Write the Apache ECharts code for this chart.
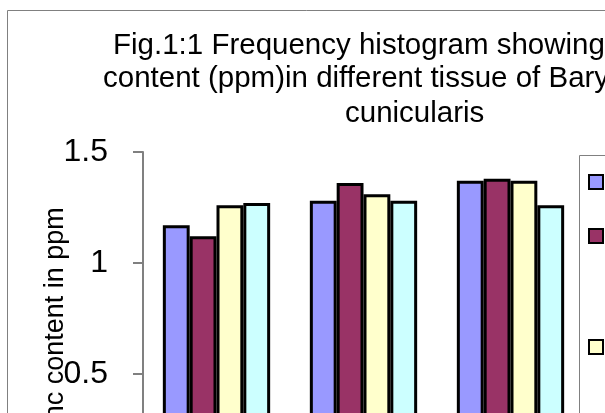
<!DOCTYPE html>
<html>
<head>
<meta charset="utf-8">
<title>Zinc content histogram</title>
<script src="https://cdn.jsdelivr.net/npm/echarts@6/dist/echarts.min.js"></script>
<style>
  html, body { margin: 0; padding: 0; background: #fff; overflow: hidden; }
  .zinc-chart { width: 605px; height: 413px; }
</style>
</head>
<body>
<div class="zinc-chart"></div>
<script>
// values
const titleLines = [
  'Fig.1:1 Frequency histogram showing Zinc',
  'content (ppm)in different tissue of Barytelphusa',
  'cunicularis'
];
const yAxisName = 'Zinc content in ppm';
const categories = ['Muscle', 'Gill', 'Hepatopancreas'];
const seriesNames = ['Site I', 'Site II', 'Site III', 'Site IV'];
const site1 = [1.17, 1.28, 1.37];
const site2 = [1.12, 1.36, 1.38];
const site3 = [1.26, 1.31, 1.37];
const site4 = [1.27, 1.28, 1.26];
const yTicks = [0, 0.5, 1, 1.5];

const seriesValues = [site1, site2, site3, site4];
const seriesColors = ['#9999FF', '#993366', '#FFFFCC', '#CCFFFF'];
const font = '"Liberation Sans", Arial, sans-serif';

class ZincChart {
  constructor() {
    this.drawChart();
  }

  drawChart() {
    const dom = document.querySelector('.zinc-chart');
    if (!dom) return;

    const chart = echarts.init(dom, null, { renderer: 'canvas' });

    const titleX = [113, 103, 345];
    const titleY = [46, 79, 114];
    const legendTops = [174, 228, 339, 450];

    const option = {
      animation: false,
      backgroundColor: '#fff',
      textStyle: { fontFamily: font },
      graphic: [
        {
          type: 'rect',
          silent: true,
          shape: { x: 7.5, y: 10.5, width: 900, height: 600 },
          style: { fill: 'none', stroke: '#808080', lineWidth: 1 }
        },
        {
          type: 'rect',
          silent: true,
          shape: { x: 579.5, y: 155.5, width: 200, height: 400 },
          style: { fill: 'none', stroke: '#808080', lineWidth: 1 }
        }
      ].concat(titleLines.map((t, i) => ({
        type: 'text',
        silent: true,
        x: titleX[i],
        y: titleY[i],
        style: {
          text: t,
          fill: '#000',
          font: '29.5px ' + font,
          align: 'left',
          verticalAlign: 'middle'
        }
      }))),
      legend: seriesNames.map((n, i) => ({
        data: [n],
        orient: 'vertical',
        left: 588,
        top: legendTops[i],
        padding: 0,
        icon: 'rect',
        itemWidth: 14,
        itemHeight: 14,
        itemStyle: { borderColor: '#000', borderWidth: 2 },
        textStyle: { fontSize: 14, lineHeight: 14, color: '#000' },
        selectedMode: false
      })),
      grid: {
        left: 143, top: 152, width: 441, height: 333,
        containLabel: false,
        outerBoundsMode: 'none'
      },
      xAxis: {
        type: 'category',
        data: categories,
        axisLine: { lineStyle: { color: '#808080', width: 1 } },
        axisTick: { show: false },
        axisLabel: { fontSize: 28, color: '#000' }
      },
      yAxis: {
        type: 'value',
        min: yTicks[0],
        max: yTicks[yTicks.length - 1],
        interval: yTicks[1] - yTicks[0],
        name: yAxisName,
        nameLocation: 'middle',
        nameRotate: 90,
        nameGap: 74,
        nameMoveOverlap: false,
        nameTextStyle: { fontSize: 27, color: '#000', padding: [0, 13, 0, 0] },
        splitLine: { show: false },
        axisLine: { show: true, lineStyle: { color: '#808080', width: 2 } },
        axisTick: { show: true, inside: false, length: 10, lineStyle: { color: '#808080', width: 2 } },
        axisLabel: { fontSize: 32, color: '#000', margin: 35 }
      },
      series: seriesNames.map((n, i) => ({
        name: n,
        type: 'bar',
        data: seriesValues[i],
        barGap: '0%',
        barCategoryGap: '27%',
        itemStyle: { color: seriesColors[i], borderColor: '#000', borderWidth: 3 }
      }))
    };

    chart.setOption(option);
    window.addEventListener('resize', () => chart.resize());
  }
}

!(() => {
  document.addEventListener('DOMContentLoaded', () => window.ZincChartClass = new ZincChart());
})();
</script>
</body>
</html>
